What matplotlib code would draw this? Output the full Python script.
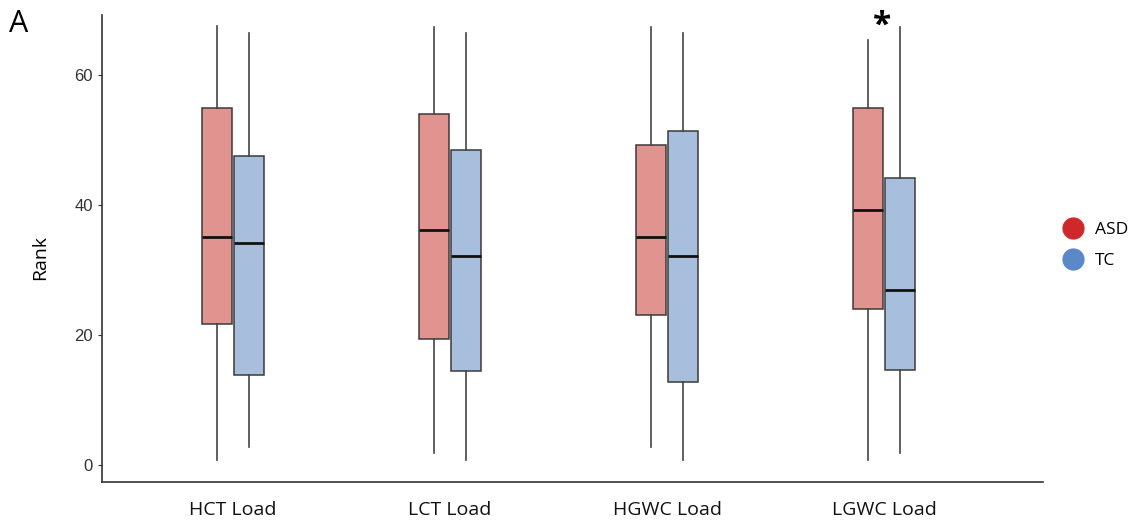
import numpy as np
import matplotlib.pyplot as plt
from matplotlib.lines import Line2D

# 数据
categories = ['HCT Load', 'LCT Load', 'HGWC Load', 'LGWC Load']
groups = ['ASD', 'TC']

asd_low = [0.8, 1.9, 2.9, 0.8]
asd_q1 = [21.7, 19.5, 23.2, 24.0]
asd_med = [35.2, 36.3, 35.2, 39.3]
asd_q3 = [55.0, 54.0, 49.3, 55.0]
asd_high = [67.6, 67.5, 67.5, 65.5]

tc_low = [2.9, 0.9, 0.9, 1.9]
tc_q1 = [13.9, 14.5, 12.9, 14.7]
tc_med = [34.2, 32.2, 32.2, 27.0]
tc_q3 = [47.6, 48.6, 51.4, 44.2]
tc_high = [66.5, 66.5, 66.5, 67.5]

significant = [False, False, False, True]

box_colors = {'ASD': '#E0938F', 'TC': '#A7BEDC'}
legend_colors = {'ASD': '#D0282A', 'TC': '#5B88C6'}

plt.rcParams['font.family'] = ['Liberation Sans', 'DejaVu Sans']
label_font = ['Open Sans', 'DejaVu Sans']

fig = plt.figure(figsize=(11.33, 5.27), dpi=100)
ax = fig.add_axes([0.090, 0.086, 0.8306, 0.8855])

x = np.arange(1, len(categories) + 1)
offset = 0.075
width = 0.138


def make_stats(low, q1, med, q3, high):
    return [dict(whislo=a, q1=b, med=c, q3=d, whishi=e, fliers=[])
            for a, b, c, d, e in zip(low, q1, med, q3, high)]


series = [
    ('ASD', x - offset, make_stats(asd_low, asd_q1, asd_med, asd_q3, asd_high)),
    ('TC', x + offset, make_stats(tc_low, tc_q1, tc_med, tc_q3, tc_high)),
]

for name, pos, stats in series:
    ax.bxp(stats, positions=pos, widths=width, patch_artist=True,
           showcaps=False, showfliers=False,
           boxprops=dict(facecolor=box_colors[name], edgecolor='#3a3a3a', linewidth=1.1),
           whiskerprops=dict(color='#444444', linewidth=1.2),
           medianprops=dict(color='#111111', linewidth=2.0))

# 显著性标记
for xi, sig in zip(x, significant):
    if sig:
        ax.text(xi - 0.01, 66.3, '*', ha='center', va='baseline', fontsize=24,
                fontweight='bold', family=label_font, clip_on=False)

ax.set_xlim(0.396, 4.733)
ax.set_ylim(-2.5, 69.3)
ax.set_xticks(x)
ax.set_xticklabels(categories, fontsize=14, family=label_font, color='#111111')
ax.set_yticks([0, 20, 40, 60])
ax.tick_params(axis='y', labelsize=12, length=3, width=0.8, colors='#333333', labelcolor='#333333')
ax.tick_params(axis='x', length=0, pad=14)
ax.set_ylabel('Rank', fontsize=14, family=label_font)
ax.yaxis.set_label_coords(-0.056, 0.48)

for side in ['top', 'right']:
    ax.spines[side].set_visible(False)
for side in ['left', 'bottom']:
    ax.spines[side].set_color('#333333')
    ax.spines[side].set_linewidth(1.2)

handles = [Line2D([], [], marker='o', linestyle='', markersize=15,
                  markerfacecolor=legend_colors[g], markeredgecolor=legend_colors[g])
           for g in groups]
fig.legend(handles, groups, loc='center left', bbox_to_anchor=(0.918, 0.535),
           frameon=False, handletextpad=0.25, labelspacing=0.85,
           prop={'family': label_font, 'size': 12.5})

fig.text(0.008, 0.954, 'A', fontsize=22, family=label_font, va='center')

fig.savefig('out.png', dpi=100)
